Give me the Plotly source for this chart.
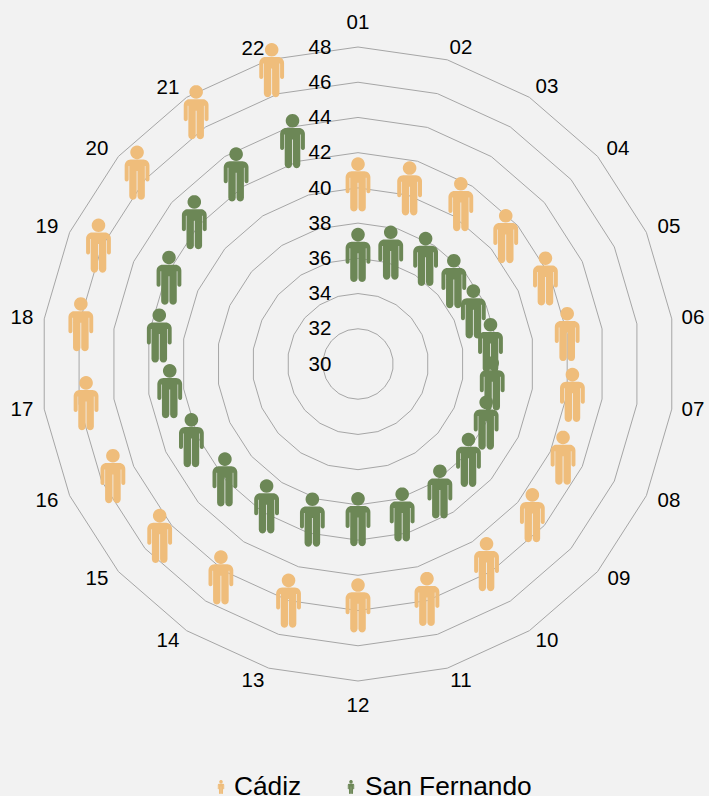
import math
import plotly.graph_objects as go

categories = ["%02d" % i for i in range(1, 23)]
cadiz = [40.2, 40.4, 40.8, 41.1, 41.7, 42.0, 42.3, 42.8, 43.1, 43.5, 43.9,
         43.7, 44.0, 44.4, 44.9, 45.3, 45.6, 45.9, 46.2, 46.6, 47.0, 47.4]
san_fernando = [36.2, 36.6, 37.1, 37.2, 37.2, 37.6, 37.7, 38.0, 38.3, 38.6, 38.9,
                38.8, 39.2, 39.6, 40.0, 40.4, 40.8, 41.4, 41.8, 42.3, 42.8, 43.2]
radial_ticks = list(range(30, 50, 2))

W, H = 709, 796
CX, CY, RAD = 358, 364, 317
R0, R1 = 30, 48
R_OVER = 49.5  # range of the overlay that carries glyphs and labels
SCALE = RAD / (R1 - R0)
# where each spoke label sits, in px from the chart centre
LABEL_DX = [0, 103, 189, 260, 311, 335, 335, 311, 261, 189, 103,
            0, -105, -190, -261, -311, -336, -336, -311, -261, -190, -105]
LABEL_DY = [340.5, 315, 276, 214, 136, 45, -47, -138, -216, -278, -318,
            -343, -318, -278, -216, -138, -47, 45, 136, 214, 275, 314]
ORANGE = "#EFBD7B"
GREEN = "#6C8756"
GRID = "#a6a6a6"
BG = "#F2F2F2"
FONT = "Liberation Sans, Arial, sans-serif"


def arc(cx, cy, r, a0, a1, n=8):
    return [(cx + r * math.cos(math.radians(a0 + (a1 - a0) * k / n)),
             cy + r * math.sin(math.radians(a0 + (a1 - a0) * k / n))) for k in range(n + 1)]


def person_parts():
    """Person glyph as polygons, in px around its centre, y up."""
    head = arc(0, 20.2, 6.8, 0, 360, 24)
    right = []
    right += arc(6.4, 7, 6, 90, 0)              # shoulder
    right += arc(10.4, -7, 2.0, 0, -180, 6)     # arm end
    right += [(8.4, 6.5), (7.8, 6.5)]           # slit arm/torso
    right += arc(4.1, -23.5, 3.7, 0, -180, 6)   # foot
    right += [(0.4, 1.5)]
    left = [(-x, y) for x, y in reversed(right)]
    return [head, right + left]


PARTS = person_parts()


def to_polar(x, y):
    return R0 + math.hypot(x, y) / SCALE, math.degrees(math.atan2(x, y)) % 360


def glyph_traces(values, color, name):
    out = []
    for i, v in enumerate(values):
        ang = math.radians(i * 360 / len(values))
        px = (v - R0) * SCALE * math.sin(ang)
        py = (v - R0) * SCALE * math.cos(ang)
        rr, tt = [], []
        for part in PARTS:
            for dx, dy in part:
                r, t = to_polar(px + dx, py + dy)
                rr.append(r)
                tt.append(t)
            rr.append(None)
            tt.append(None)
        out.append(go.Scatterpolar(r=rr, theta=tt, subplot="polar2", mode="lines", name=name,
                                   line=dict(width=0, color=color), fill="toself", fillcolor=color,
                                   cliponaxis=False, hoverinfo="skip", showlegend=False))
    return out


def legend_path(x0, y0, h):
    k = h / 54
    out = ""
    for part in PARTS:
        pts = [((x0 + dx * k) / W, 1 - (y0 - dy * k) / H) for dx, dy in part]
        out += "M" + " L".join("%.5f,%.5f" % p for p in pts) + " Z "
    return out


fig = go.Figure()
for vals, col, nm in [(cadiz, ORANGE, "Cádiz"), (san_fernando, GREEN, "San Fernando")]:
    fig.add_trace(go.Scatterpolar(r=vals, theta=categories, subplot="polar", mode="markers",
                                  marker=dict(size=1, color=col, opacity=0), name=nm,
                                  showlegend=False, hovertemplate="%{theta}: %{r}<extra>" + nm + "</extra>"))
fig.add_traces(glyph_traces(cadiz, ORANGE, "Cádiz"))
fig.add_traces(glyph_traces(san_fernando, GREEN, "San Fernando"))
label_pos = [to_polar(x, y) for x, y in zip(LABEL_DX, LABEL_DY)]
fig.add_trace(go.Scatterpolar(
    r=[p[0] for p in label_pos], theta=[p[1] for p in label_pos],
    text=categories, subplot="polar2", mode="text", textposition="middle center",
    textfont=dict(size=20.5, family=FONT, color="#000000"),
    cliponaxis=False, hoverinfo="skip", showlegend=False))

dom = dict(x=[(CX - RAD) / W, (CX + RAD) / W], y=[1 - (CY + RAD) / H, 1 - (CY - RAD) / H])
RAD2 = (R_OVER - R0) * SCALE
dom2 = dict(x=[(CX - RAD2) / W, (CX + RAD2) / W], y=[1 - (CY + RAD2) / H, 1 - (CY - RAD2) / H])
fig.update_layout(
    width=W, height=H, autosize=False,
    margin=dict(l=0, r=0, t=0, b=0),
    paper_bgcolor=BG, plot_bgcolor=BG, showlegend=False,
    font=dict(family=FONT, color="#000000", size=20),
    polar=dict(
        domain=dom, bgcolor=BG, gridshape="linear",
        angularaxis=dict(type="category", categoryorder="array", categoryarray=categories,
                         rotation=90, direction="clockwise", showgrid=False, showline=True,
                         linecolor=GRID, linewidth=1, ticks="", showticklabels=False),
        radialaxis=dict(range=[R0, R1], angle=90, tickangle=90, tickvals=radial_ticks,
                        ticktext=[str(t) for t in radial_ticks],
                        showline=False, ticks="outside", ticklen=19, tickcolor="rgba(0,0,0,0)",
                        showgrid=True, gridcolor=GRID, gridwidth=1,
                        side="counterclockwise", tickfont=dict(size=20.5, family=FONT)),
    ),
    polar2=dict(
        domain=dom2, bgcolor="rgba(0,0,0,0)",
        angularaxis=dict(type="linear", rotation=90, direction="clockwise", visible=False),
        radialaxis=dict(range=[R0, R_OVER], visible=False),
    ),
    shapes=[
        dict(type="path", xref="paper", yref="paper", path=legend_path(221, 787, 14),
             fillcolor=ORANGE, line=dict(width=0)),
        dict(type="path", xref="paper", yref="paper", path=legend_path(351, 787, 14),
             fillcolor=GREEN, line=dict(width=0)),
    ],
    annotations=[
        dict(text="Cádiz", x=232 / W, y=1 - 786 / H, xref="paper", yref="paper", xanchor="left",
             yanchor="middle", showarrow=False, font=dict(size=26.3, family=FONT)),
        dict(text="San Fernando", x=363 / W, y=1 - 786 / H, xref="paper", yref="paper", xanchor="left",
             yanchor="middle", showarrow=False, font=dict(size=26.3, family=FONT)),
    ],
)
fig.write_html("out.html", config={"displayModeBar": False},
               post_script="document.body.style.margin='0';document.body.style.background='%s';" % BG)
